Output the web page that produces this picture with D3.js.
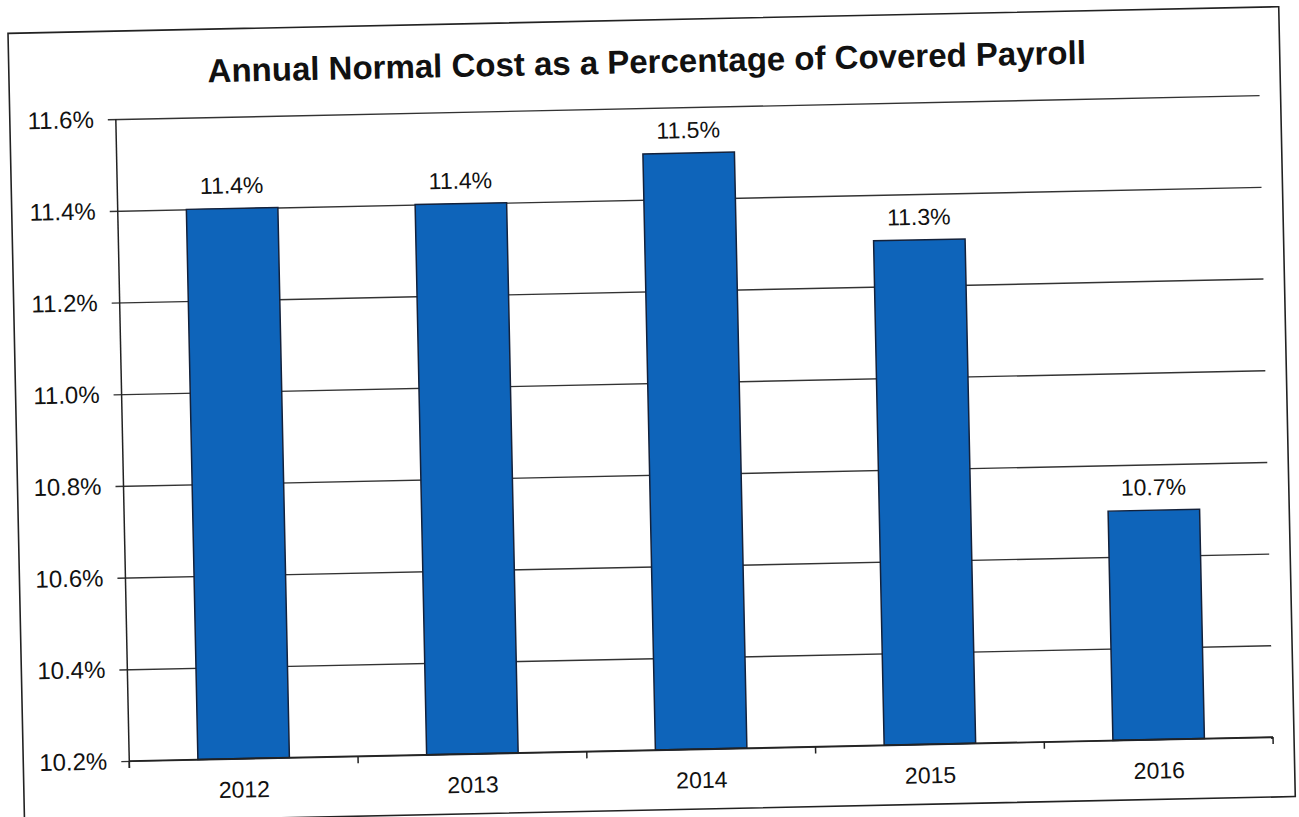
<!DOCTYPE html>
<html>
<head>
<meta charset="utf-8">
<script src="https://cdn.jsdelivr.net/npm/d3@7"></script>
<style>
  body { margin: 0; background: #fff; }
  text { font-family: "Liberation Sans", Arial, sans-serif; fill: #111; }
</style>
</head>
<body>
<div id="chart"></div>
<script>
// DATA
const years = ["2012", "2013", "2014", "2015", "2016"];
const costPct = [11.40, 11.40, 11.50, 11.30, 10.70];
const barLabels = ["11.4%", "11.4%", "11.5%", "11.3%", "10.7%"];
const yTicks = [10.2, 10.4, 10.6, 10.8, 11.0, 11.2, 11.4, 11.6];
const title = "Annual Normal Cost as a Percentage of Covered Payroll";

// SET GLOBAL VARIABLES
const W = 1299, H = 817;
const plot = { left: 122, right: 1266, top: 108, bottom: 750 };

const svg = d3.select("#chart")
    .append("svg")
    .attr("width", W)
    .attr("height", H);

// the scanned page is slightly tilted
const g = svg.append("g")
    .attr("transform", `rotate(-1.2, ${W / 2}, ${H / 2})`);

// outer frame
g.append("rect")
    .attr("x", 16).attr("y", 20)
    .attr("width", 1271).attr("height", 790)
    .attr("fill", "none")
    .attr("stroke", "#222")
    .attr("stroke-width", 1.6);

// Title
g.append("text")
    .attr("x", 654)
    .attr("y", 73)
    .attr("text-anchor", "middle")
    .style("font-size", "33px")
    .style("font-weight", "bold")
    .text(title);

// Set scales
const x = d3.scaleBand()
    .domain(years)
    .range([plot.left, plot.right])
    .paddingInner(0.6)
    .paddingOuter(0.3);

const y = d3.scaleLinear()
    .domain([10.2, 11.6])
    .range([plot.bottom, plot.top]);

// Gridlines + y axis
const yAxis = g.append("g")
    .attr("transform", `translate(${plot.left},0)`)
    .call(d3.axisLeft(y)
        .tickValues(yTicks)
        .tickSize(-(plot.right - plot.left))
        .tickPadding(22)
        .tickFormat(d => d.toFixed(1) + "%"));
yAxis.select(".domain").remove();
yAxis.selectAll(".tick line")
    .attr("x1", -8)
    .attr("stroke", "#333")
    .attr("stroke-width", 1.4);
yAxis.selectAll(".tick text")
    .style("font-size", "24px")
    .style("font-family", "Liberation Sans, Arial, sans-serif")
    .attr("fill", "#111");

// vertical axis line
g.append("line")
    .attr("x1", plot.left).attr("x2", plot.left)
    .attr("y1", plot.top).attr("y2", plot.bottom + 7)
    .attr("stroke", "#222")
    .attr("stroke-width", 1.5);

// Bars
g.selectAll("rect.bar")
    .data(years)
    .join("rect")
    .attr("class", "bar")
    .attr("x", d => x(d))
    .attr("width", x.bandwidth())
    .attr("y", (d, i) => y(costPct[i]))
    .attr("height", (d, i) => y(10.2) - y(costPct[i]))
    .attr("fill", "#0e64ba")
    .attr("stroke", "#14213a")
    .attr("stroke-width", 1.5);

// Bar value labels
g.selectAll("text.val")
    .data(years)
    .join("text")
    .attr("class", "val")
    .attr("x", d => x(d) + x.bandwidth() / 2)
    .attr("y", (d, i) => y(costPct[i]) - 15)
    .attr("text-anchor", "middle")
    .style("font-size", "23px")
    .text((d, i) => barLabels[i]);

// X axis with ticks between categories
const step = x.step();
const boundaries = d3.range(years.length + 1).map(i => plot.left + i * step);
g.append("line")
    .attr("x1", plot.left).attr("x2", plot.right)
    .attr("y1", plot.bottom).attr("y2", plot.bottom)
    .attr("stroke", "#222")
    .attr("stroke-width", 1.5);
g.selectAll("line.xtick")
    .data(boundaries)
    .join("line")
    .attr("class", "xtick")
    .attr("x1", d => d).attr("x2", d => d)
    .attr("y1", plot.bottom).attr("y2", plot.bottom + 7)
    .attr("stroke", "#222")
    .attr("stroke-width", 1.5);

g.selectAll("text.year")
    .data(years)
    .join("text")
    .attr("class", "year")
    .attr("x", d => x(d) + x.bandwidth() / 2)
    .attr("y", plot.bottom + 39)
    .attr("text-anchor", "middle")
    .style("font-size", "23px")
    .text(d => d);
</script>
</body>
</html>
